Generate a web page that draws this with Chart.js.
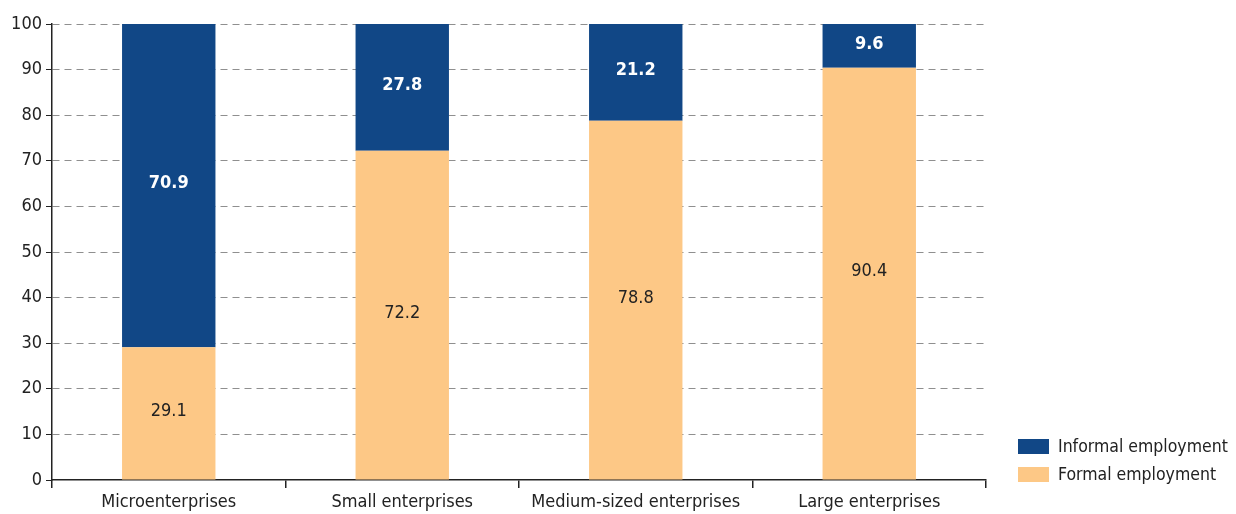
<!DOCTYPE html>
<html>
<head>
<meta charset="utf-8">
<script src="https://cdn.jsdelivr.net/npm/chart.js@4.4.1/dist/chart.umd.min.js"></script>
<style>
  html, body { margin: 0; padding: 0; background: #fff; }
  #wrap { position: relative; width: 1236px; height: 514px; }
  .legend { position: absolute; left: 1018px; top: 432px; font-family: 'Liberation Sans Narrow', 'DejaVu Sans Condensed', Roboto, sans-serif; font-size: 17.5px; color: #222; }
  .legend div { display: flex; align-items: center; height: 28px; }
  .legend span.box { display: inline-block; width: 31px; height: 15px; margin-right: 9px; }
</style>
</head>
<body>
<div id="wrap">
  <canvas id="c" width="1236" height="514"></canvas>
  <div class="legend">
    <div><span class="box" style="background:#114786"></span>Informal employment</div>
    <div><span class="box" style="background:#fdc886"></span>Formal employment</div>
  </div>
</div>
<script>
const FONT = "'Liberation Sans Narrow', 'DejaVu Sans Condensed', Roboto, sans-serif";
const NAVY = '#114786';
const PEACH = '#fdc886';

const categories = ['Microenterprises', 'Small enterprises', 'Medium-sized enterprises', 'Large enterprises'];
const formal   = [29.1, 72.2, 78.8, 90.4];
const informal = [70.9, 27.8, 21.2, 9.6];
const yTicks   = [0, 10, 20, 30, 40, 50, 60, 70, 80, 90, 100];

// writes each segment value in the middle of its bar
const barLabels = {
  id: 'barLabels',
  afterDatasetsDraw(chart) {
    const ctx = chart.ctx;
    chart.data.datasets.forEach((ds, i) => {
      const meta = chart.getDatasetMeta(i);
      meta.data.forEach((bar, j) => {
        const { x, y, base } = bar.getProps(['x', 'y', 'base'], true);
        ctx.save();
        ctx.textAlign = 'center';
        ctx.textBaseline = 'middle';
        ctx.fillStyle = ds.labelColor;
        ctx.font = (ds.labelBold ? 'bold ' : '') + '18px ' + FONT;
        ctx.fillText(ds.data[j].toFixed(1), x, (y + base) / 2 - 2);
        ctx.restore();
      });
    });
  }
};

new Chart(document.getElementById('c'), {
  type: 'bar',
  data: {
    labels: categories,
    datasets: [
      { label: 'Formal employment', data: formal, backgroundColor: PEACH, labelColor: '#222', labelBold: false, barPercentage: 0.8, categoryPercentage: 0.5 },
      { label: 'Informal employment', data: informal, backgroundColor: NAVY, labelColor: '#fff', labelBold: true, barPercentage: 0.8, categoryPercentage: 0.5 },
    ],
  },
  options: {
    responsive: false, animation: false,
    layout: { padding: { top: 24, right: 250, left: 0, bottom: 0 } },
    plugins: { legend: { display: false }, tooltip: { enabled: false } },
    scales: {
      x: {
        stacked: true,
        afterFit: s => { s.height = 34; },
        grid: { display: true, offset: true, drawOnChartArea: false, drawTicks: true, tickLength: 8, color: '#222', lineWidth: 1.5 },
        border: { display: true, color: '#222', width: 1.5 },
        ticks: { font: { family: FONT, size: 18 }, color: '#222', padding: 4 },
      },
      y: {
        stacked: true, min: 0, max: 100,
        afterFit: s => { s.width = 52; },
        afterBuildTicks: s => { s.ticks = yTicks.map(v => ({ value: v })); },
        grid: {
          color: ctx => ctx.tick && ctx.tick.value === 0 ? 'rgba(0,0,0,0)' : '#8f8f8f',
          tickColor: '#222', tickLength: 6, lineWidth: 1,
        },
        border: { display: true, color: '#222', width: 1.5, dash: [7, 5] },
        ticks: { font: { family: FONT, size: 18 }, color: '#222', padding: 4 },
      },
    },
  },
  plugins: [barLabels],
});
</script>
</body>
</html>
